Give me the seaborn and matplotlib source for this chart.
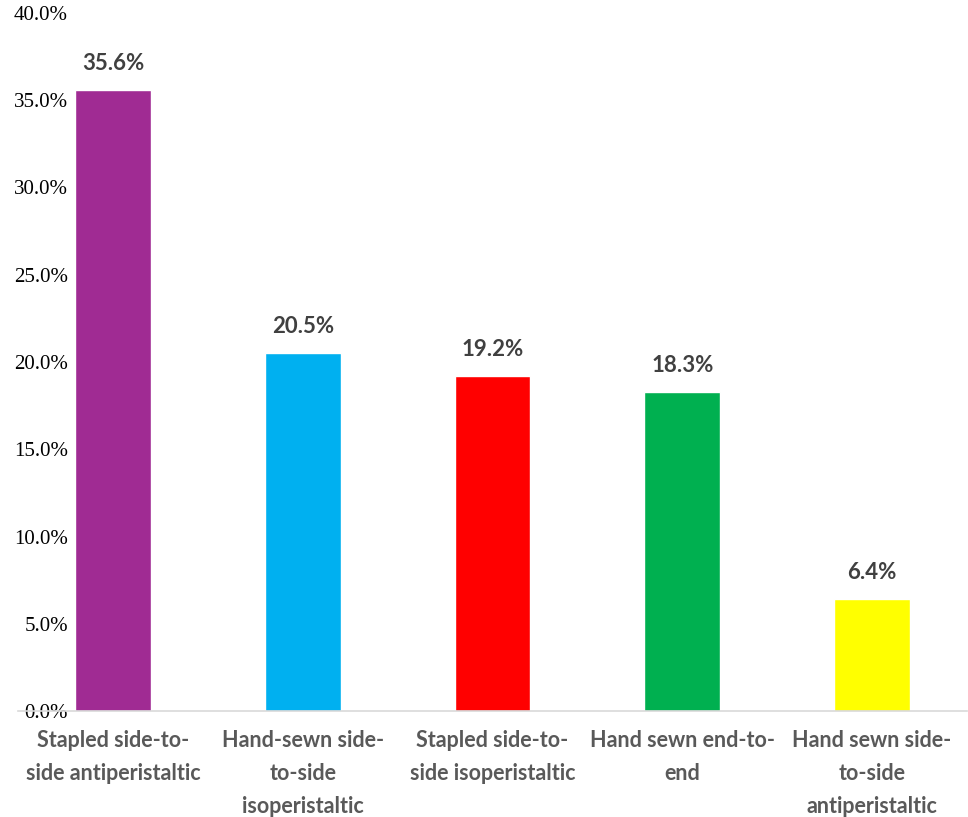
import matplotlib
matplotlib.use("Agg")
import matplotlib.pyplot as plt
import seaborn as sns
import pandas as pd

categories = [
    "Stapled side-to-\nside antiperistaltic",
    "Hand-sewn side-\nto-side\nisoperistaltic",
    "Stapled side-to-\nside isoperistaltic",
    "Hand sewn end-to-\nend",
    "Hand sewn side-\nto-side\nantiperistaltic",
]
values = [35.6, 20.5, 19.2, 18.3, 6.4]
colors = ["#A02B93", "#00B0F0", "#FF0000", "#00B050", "#FFFF00"]
yticks = [0, 5, 10, 15, 20, 25, 30, 35, 40]

df = pd.DataFrame({"cat": categories, "val": values})

sns.set_style("white")
fig = plt.figure(figsize=(9.68, 8.17), dpi=100)
W, H = 968, 817
ax = fig.add_axes([18 / W, 1 - 711 / H, (967 - 18) / W, (711 - 13) / H])

sns.barplot(data=df, x="cat", y="val", hue="cat", palette=colors, width=0.4,
            legend=False, ax=ax, saturation=1)

ax.set_ylim(0, 40)
ax.set_xlim(-0.5, 4.5)
ax.set_yticks(yticks)
ax.set_yticklabels([f"{t:.1f}%" for t in yticks], fontfamily="Liberation Serif",
                   fontsize=15, color="#000000")
ax.tick_params(axis="y", length=0, pad=-36)
ax.tick_params(axis="x", length=0, pad=14)
for lbl in ax.get_yticklabels():
    lbl.set_horizontalalignment("right")
ax.set_xticks(range(len(categories)))
ax.set_xticklabels(categories, fontfamily="Lato", fontweight="bold", fontsize=15.5,
                   color="#595959", linespacing=1.7)
ax.set_xlabel("")
ax.set_ylabel("")

for s in ["top", "right", "left"]:
    ax.spines[s].set_visible(False)
ax.spines["bottom"].set_color("#D9D9D9")
ax.spines["bottom"].set_linewidth(1.2)

for i, v in enumerate(values):
    ax.annotate(f"{v:.1f}%", xy=(i, v), xytext=(0, 19), textcoords="offset points",
                ha="center", va="center", fontfamily="Lato", fontweight="bold",
                fontsize=16, color="#404040")

fig.savefig("out.png", dpi=100)
